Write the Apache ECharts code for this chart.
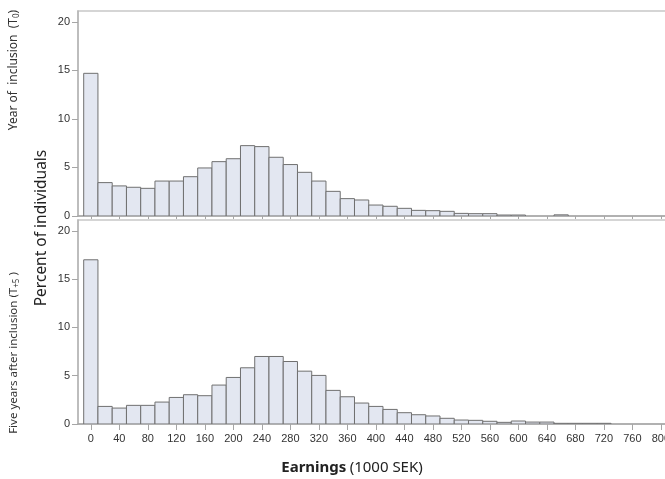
<!DOCTYPE html>
<html>
<head>
<meta charset="utf-8">
<script src="https://cdn.jsdelivr.net/npm/echarts@6/dist/echarts.min.js"></script>
<style>html,body{margin:0;padding:0;background:#fff}#c{width:665px;height:479px}</style>
</head>
<body>
<div id="c"></div>
<script>
// bin centres (1000 SEK), bin width 20
const binsTop = [0,20,40,60,80,100,120,140,160,180,200,220,240,260,280,300,320,340,360,380,400,420,440,460,480,500,520,540,560,580,600,620,640,660];
const valuesTop = [14.7,3.44,3.1,2.96,2.85,3.6,3.6,4.05,4.95,5.6,5.9,7.25,7.15,6.05,5.3,4.5,3.6,2.54,1.79,1.65,1.13,1.0,0.79,0.58,0.55,0.48,0.27,0.24,0.24,0.1,0.1,0,0,0.12];
const binsBottom = [0,20,40,60,80,100,120,140,160,180,200,220,240,260,280,300,320,340,360,380,400,420,440,460,480,500,520,540,560,580,600,620,640,660,680,700,720];
const valuesBottom = [17.0,1.82,1.65,1.93,1.93,2.27,2.75,3.03,2.93,4.03,4.82,5.82,6.99,6.99,6.47,5.47,5.03,3.48,2.82,2.17,1.82,1.51,1.17,0.96,0.83,0.59,0.41,0.38,0.28,0.17,0.31,0.2,0.2,0.07,0.07,0.07,0.07];
const xTicks = [0,40,80,120,160,200,240,280,320,360,400,440,480,520,560,600,640,680,720,760,800];
const yTicks = [0,5,10,15,20];
const binWidth = 20;

const chart = echarts.init(document.getElementById('c'), null, {renderer:'canvas'});

function renderBar(params, api){
  const x = api.value(0), y = api.value(1);
  if (!(y > 0)) return null;
  const p0 = api.coord([x - binWidth/2, 0]);
  const p1 = api.coord([x + binWidth/2, y]);
  return {
    type:'rect',
    shape:{x:p0[0], y:p1[1], width:p1[0]-p0[0], height:p0[1]-p1[1]},
    style:{fill:'#e3e7f1', stroke:'#707070', lineWidth:1}
  };
}

const axisFont = {fontFamily:'Liberation Sans, Arial, sans-serif', fontSize:11, color:'#333'};

function xAxis(idx, showLabels){
  return {
    type:'value', gridIndex:idx, min:-18, max:824,
    axisLine:{show:true, onZero:false, lineStyle:{color:'#a6a6a6', width:1.5}},
    axisTick:{show:true, customValues:xTicks, length:showLabels?6:3, lineStyle:{color:'#a6a6a6'}},
    axisLabel:Object.assign({show:showLabels, customValues:xTicks, margin:9}, axisFont),
    splitLine:{show:false}
  };
}
function yAxis(idx){
  return {
    type:'value', gridIndex:idx, min:0, max:21.12,
    axisLine:{show:true, onZero:false, lineStyle:{color:'#b4b4b4', width:1.5}},
    axisTick:{show:true, customValues:yTicks, length:6, lineStyle:{color:'#a6a6a6'}},
    axisLabel:Object.assign({customValues:yTicks, margin:8}, axisFont),
    splitLine:{show:false}
  };
}

const option = {
  animation:false,
  grid:[
    {left:78, top:11, width:600, height:205, show:true, borderColor:'#c8c8c8', borderWidth:1.5, containLabel:false, outerBoundsMode:'none'},
    {left:78, top:220, width:600, height:204, show:true, borderColor:'#c8c8c8', borderWidth:1.5, containLabel:false, outerBoundsMode:'none'}
  ],
  xAxis:[xAxis(0,false), xAxis(1,true)],
  yAxis:[yAxis(0), yAxis(1)],
  series:[
    {type:'custom', xAxisIndex:0, yAxisIndex:0, renderItem:renderBar, encode:{x:0,y:1},
     data:binsTop.map((b,i)=>[b, valuesTop[i]]), clip:true},
    {type:'custom', xAxisIndex:1, yAxisIndex:1, renderItem:renderBar, encode:{x:0,y:1},
     data:binsBottom.map((b,i)=>[b, valuesBottom[i]]), clip:true}
  ],
  graphic:[
    {type:'text', x:14, y:70, rotation:Math.PI/2,
     style:{text:'{n|Year of  inclusion  (T}{s|0}{n|)}', align:'center', verticalAlign:'middle',
       rich:{n:{fontFamily:'Noto Sans', fontSize:12, fill:'#333'}, s:{fontFamily:'Noto Sans', fontSize:8, fill:'#333', padding:[6,0,0,0]}}}},
    {type:'text', x:14, y:353, rotation:Math.PI/2,
     style:{text:'{n|Five years after inclusion (T}{s|+5}{n| )}', align:'center', verticalAlign:'middle',
       rich:{n:{fontFamily:'Noto Sans', fontSize:11.5, fill:'#333'}, s:{fontFamily:'Noto Sans', fontSize:8, fill:'#333', padding:[6,0,0,0]}}}},
    {type:'text', x:42, y:228, rotation:Math.PI/2,
     style:{text:'Percent of individuals', align:'center', verticalAlign:'middle',
       fontFamily:'Noto Sans', fontSize:15.5, fill:'#222'}},
    {type:'text', x:352, y:468,
     style:{text:'{b|Earnings} {n|(1000 SEK)}', align:'center', verticalAlign:'middle',
       rich:{b:{fontFamily:'Noto Sans', fontSize:15, fontWeight:'bold', fill:'#222'}, n:{fontFamily:'Noto Sans', fontSize:15, fill:'#222'}}}}
  ]
};
chart.setOption(option);
</script>
</body>
</html>
